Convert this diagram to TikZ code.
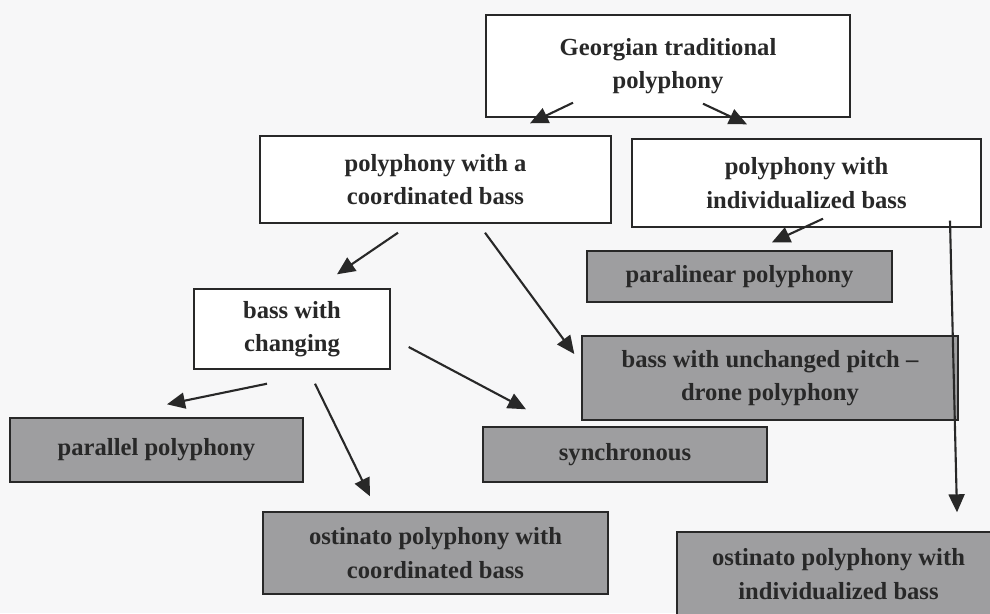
\documentclass[tikz,border=0pt]{standalone}
\usepackage{fontspec}
\setmainfont{Liberation Serif}
\usepackage{tikz}
\usetikzlibrary{arrows.meta}
\definecolor{boxgray}{RGB}{158,158,160}
\definecolor{paper}{RGB}{247,247,248}
\definecolor{ink}{RGB}{40,40,40}
\tikzset{
	plainbox/.style={draw=ink,line width=0.8pt,fill=white,inner sep=0pt,align=center,text=ink,font=\fontsize{14}{19}\selectfont\bfseries},
	graybox/.style={plainbox,fill=boxgray},
	arr/.style={draw=ink,line width=1.2pt,-{Triangle[length=3.6mm,width=3.2mm]}}
}
\begin{document}
\begin{tikzpicture}
	\useasboundingbox (0,0) rectangle (19.8,-12.26);
	\fill[paper] (0,0) rectangle (19.8,-12.26);
	\clip (0,0) rectangle (19.8,-12.26);
\node[plainbox,minimum width=7.28cm,minimum height=2.04cm] (G) at (13.36,-1.32) {Georgian traditional\\polyphony};
\node[plainbox,minimum width=7.02cm,minimum height=1.74cm] (Co) at (8.71,-3.59) {polyphony with a\\coordinated bass};
\node[plainbox,minimum width=6.98cm,minimum height=1.76cm] (In) at (16.13,-3.66) {polyphony with\\individualized bass};
\node[graybox,minimum width=6.10cm,minimum height=1.02cm] (Pl) at (14.79,-5.53) {paralinear polyphony};
\node[plainbox,minimum width=3.92cm,minimum height=1.60cm] (Ch) at (5.84,-6.58) {bass with\\changing};
\node[graybox,minimum width=7.52cm,minimum height=1.68cm] (Dr) at (15.40,-7.56) {bass with unchanged pitch --\\drone polyphony};
\node[graybox,minimum width=5.86cm,minimum height=1.28cm] (Pa) at (3.13,-9.00) {parallel polyphony};
\node[graybox,minimum width=5.68cm,minimum height=1.10cm] (Sy) at (12.50,-9.09) {synchronous};
\node[graybox,minimum width=6.90cm,minimum height=1.64cm] (OC) at (8.71,-11.06) {ostinato polyphony with\\coordinated bass};
\node[graybox,minimum width=6.46cm,minimum height=1.68cm] (OI) at (16.77,-11.48) {ostinato polyphony with\\individualized bass};

\draw[arr] ([shift={(-1.90,0.30)}]G.south) -- ([shift={(1.89,0.24)}]Co.north);
\draw[arr] ([shift={(0.70,0.28)}]G.south) -- ([shift={(-1.19,0.28)}]In.north);
\draw[arr] ([shift={(-0.75,-0.18)}]Co.south) -- ([shift={(0.90,0.28)}]Ch.north);
\draw[arr] ([shift={(0.99,-0.18)}]Co.south) -- ([shift={(-0.14,0.48)}]Dr.west);
\draw[arr] ([shift={(0.33,0.18)}]In.south) -- ([shift={(0.65,0.16)}]Pl.north);
\draw[arr] ([shift={(2.87,0.14)}]In.south) -- ([shift={(2.37,0.38)}]OI.north);
\draw[arr] ([shift={(-0.50,-0.28)}]Ch.south) -- ([shift={(0.21,0.26)}]Pa.north);
\draw[arr] ([shift={(0.46,-0.28)}]Ch.south) -- ([shift={(-1.31,0.30)}]OC.north);
\draw[arr] ([shift={(0.36,-0.36)}]Ch.east) -- ([shift={(-1.98,0.34)}]Sy.north);

\end{tikzpicture}
\end{document}
